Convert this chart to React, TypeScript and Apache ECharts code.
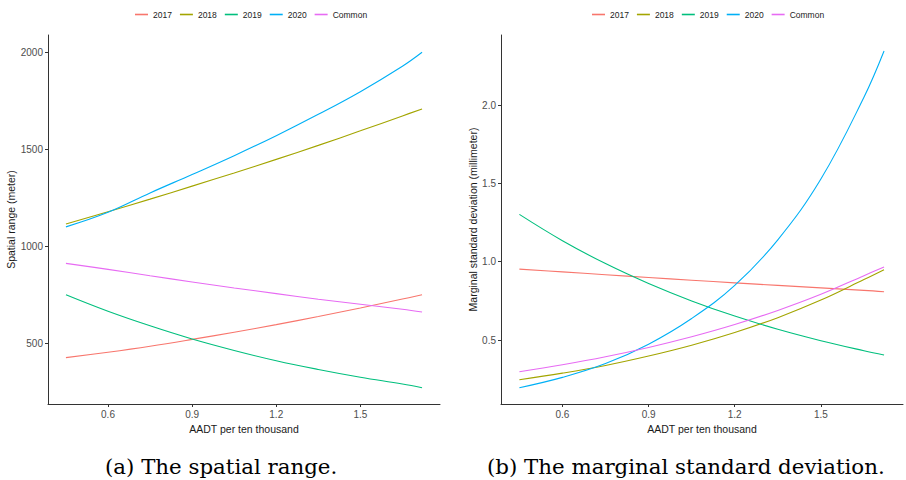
import React, { useEffect, useRef } from "react";
import * as echarts from "echarts";

// ---- data ----
const X_VALUES = [0.45, 0.6, 0.75, 0.9, 1.05, 1.2, 1.35, 1.5, 1.65, 1.72];
const SERIES_NAMES = ["2017", "2018", "2019", "2020", "Common"];

// (a) spatial range (meter)
const RANGE_2017 = [426, 454, 485, 520, 557, 596, 638, 682, 728, 750];
const RANGE_2018 = [1115, 1178, 1243, 1310, 1378, 1448, 1520, 1595, 1672, 1708];
const RANGE_2019 = [750, 665, 590, 522, 463, 410, 365, 325, 290, 271];
const RANGE_2020 = [1100, 1175, 1275, 1370, 1467, 1570, 1680, 1797, 1928, 2000];
const RANGE_COMMON = [912, 881, 848, 816, 785, 756, 727, 701, 675, 661];

// (b) marginal standard deviation (millimeter)
const SD_2017 = [0.953, 0.935, 0.917, 0.899, 0.882, 0.865, 0.849, 0.833, 0.817, 0.808];
const SD_2018 = [0.247, 0.289, 0.338, 0.398, 0.467, 0.548, 0.643, 0.755, 0.886, 0.949];
const SD_2019 = [1.302, 1.134, 0.988, 0.861, 0.75, 0.653, 0.569, 0.496, 0.432, 0.405];
const SD_2020 = [0.196, 0.262, 0.35, 0.474, 0.638, 0.849, 1.14, 1.528, 2.05, 2.345];
const SD_COMMON = [0.298, 0.343, 0.394, 0.453, 0.521, 0.599, 0.689, 0.792, 0.911, 0.966];

const X_TICKS = [0.6, 0.9, 1.2, 1.5];
const RANGE_TICKS = [500, 1000, 1500, 2000];
const SD_TICKS = [0.5, 1.0, 1.5, 2.0];

const CAPTION_A = "(a) The spatial range.";
const CAPTION_B = "(b) The marginal standard deviation.";

const COLORS = ["#F8766D", "#A3A500", "#00BF7D", "#00B0F6", "#E76BF3"];
const SANS = "Liberation Sans, Arial, Helvetica, sans-serif";
const SERIF = "DejaVu Serif, Liberation Serif, serif";

const RANGE_DATA = [RANGE_2017, RANGE_2018, RANGE_2019, RANGE_2020, RANGE_COMMON];
const SD_DATA = [SD_2017, SD_2018, SD_2019, SD_2020, SD_COMMON];

function xAxisCfg(gridIndex: number, min: number, max: number) {
  return {
    type: "value",
    gridIndex,
    min,
    max,
    splitLine: { show: false },
    axisLine: { show: true, onZero: false, lineStyle: { color: "#333", width: 1 } },
    axisTick: { show: true, length: 3, customValues: X_TICKS, lineStyle: { color: "#333" } },
    axisLabel: {
      customValues: X_TICKS,
      formatter: (v: number) => v.toFixed(1),
      color: "#4d4d4d",
      fontSize: 10,
      margin: 5,
      fontFamily: SANS,
    },
    name: "AADT per ten thousand",
    nameLocation: "middle",
    nameGap: 17,
    nameTextStyle: { color: "#1a1a1a", fontSize: 10.5, fontFamily: SANS },
  };
}

function yAxisCfg(gridIndex: number, min: number, max: number, ticks: number[], name: string, gap: number, fmt: (v: number) => string) {
  return {
    type: "value",
    gridIndex,
    min,
    max,
    splitLine: { show: false },
    axisLine: { show: true, onZero: false, lineStyle: { color: "#333", width: 1 } },
    axisTick: { show: true, length: 3, customValues: ticks, lineStyle: { color: "#333" } },
    axisLabel: {
      customValues: ticks,
      formatter: fmt,
      color: "#4d4d4d",
      fontSize: 10,
      margin: 5,
      fontFamily: SANS,
    },
    name,
    nameLocation: "middle",
    nameGap: gap,
    nameTextStyle: { color: "#1a1a1a", fontSize: 10.5, fontFamily: SANS },
  };
}

function legendCfg(left: number) {
  return {
    left,
    top: 5,
    itemWidth: 13,
    itemHeight: 1.6,
    itemGap: 8,
    icon: "rect",
    data: SERIES_NAMES,
    textStyle: { color: "#222", fontSize: 8.5, fontFamily: SANS },
  };
}

export default function App() {
  const ref = useRef<HTMLDivElement>(null);

  useEffect(() => {
    document.body.style.margin = "0";
    if (!ref.current) return;
    const chart = echarts.init(ref.current, undefined, { renderer: "svg" });

    const series: any[] = [];
    SERIES_NAMES.forEach((name, i) => {
      series.push({
        name,
        type: "line",
        xAxisIndex: 0,
        yAxisIndex: 0,
        smooth: 0.4,
        symbol: "none",
        color: COLORS[i],
        lineStyle: { width: 1.1, color: COLORS[i] },
        data: X_VALUES.map((x, j) => [x, RANGE_DATA[i][j]]),
      });
    });
    SERIES_NAMES.forEach((name, i) => {
      series.push({
        name,
        type: "line",
        xAxisIndex: 1,
        yAxisIndex: 1,
        smooth: 0.4,
        symbol: "none",
        color: COLORS[i],
        lineStyle: { width: 1.1, color: COLORS[i] },
        data: X_VALUES.map((x, j) => [x, SD_DATA[i][j]]),
      });
    });

    chart.setOption({
      animation: false,
      backgroundColor: "#fff",
      legend: [legendCfg(130), legendCfg(587)],
      grid: [
        { left: 48, top: 35, width: 392, height: 369 },
        { left: 501, top: 35, width: 402, height: 369 },
      ],
      xAxis: [xAxisCfg(0, 0.386, 1.784), xAxisCfg(1, 0.386, 1.786)],
      yAxis: [
        yAxisCfg(0, 187, 2089, RANGE_TICKS, "Spatial range (meter)", 31, (v: number) => String(v)),
        yAxisCfg(1, 0.092, 2.447, SD_TICKS, "Marginal standard deviation (millimeter)", 22, (v: number) => v.toFixed(1)),
      ],
      series,
      graphic: [
        {
          type: "text",
          x: 105,
          y: 467,
          scaleX: 1.067,
          style: { text: CAPTION_A, fontSize: 20, fontFamily: SERIF, fill: "#000", verticalAlign: "middle", align: "left" },
        },
        {
          type: "text",
          x: 487,
          y: 467,
          scaleX: 1.067,
          style: { text: CAPTION_B, fontSize: 20, fontFamily: SERIF, fill: "#000", verticalAlign: "middle", align: "left" },
        },
      ],
    });

    return () => chart.dispose();
  }, []);

  return <div ref={ref} style={{ width: 906, height: 480 }} />;
}
